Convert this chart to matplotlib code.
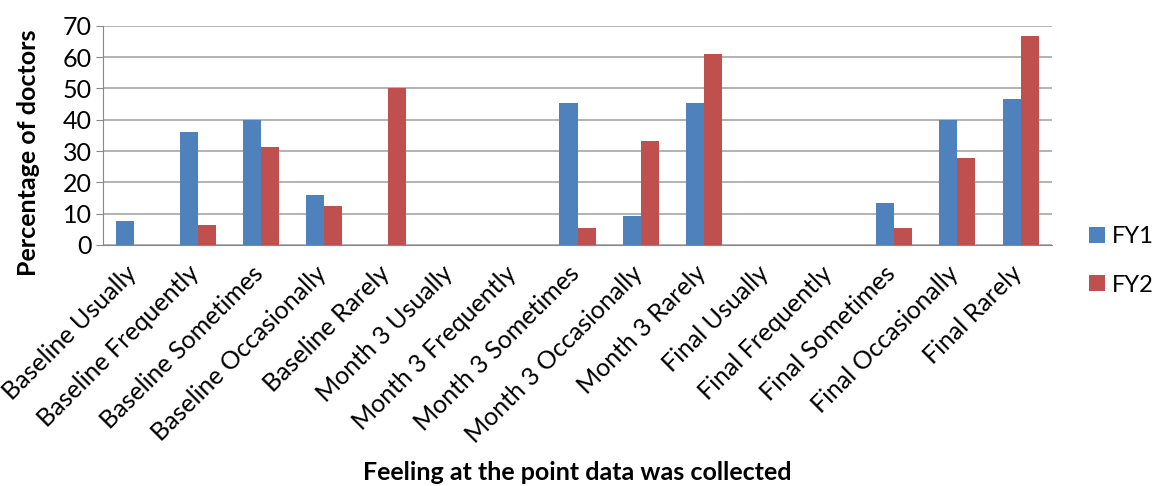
import matplotlib.pyplot as plt
import matplotlib.transforms as mtransforms
import numpy as np

# --- dane ---
categories = ["Baseline Usually", "Baseline Frequently", "Baseline Sometimes",
              "Baseline Occasionally", "Baseline Rarely", "Month 3 Usually",
              "Month 3 Frequently", "Month 3 Sometimes", "Month 3 Occasionally",
              "Month 3 Rarely", "Final Usually", "Final Frequently",
              "Final Sometimes", "Final Occasionally", "Final Rarely"]
fy1 = [7.7, 36, 40, 16, 0, 0, 0, 45.4, 9.1, 45.4, 0, 0, 13.3, 40, 46.7]
fy2 = [0, 6.3, 31.2, 12.3, 50, 0, 0, 5.3, 33.3, 61.1, 0, 0, 5.3, 27.8, 66.7]
yticks = [0, 10, 20, 30, 40, 50, 60, 70]

plt.rcParams['font.family'] = ['Lato', 'DejaVu Sans']
FS = 18

fig = plt.figure(figsize=(11.55, 4.86), dpi=100)
ax = fig.add_axes([0.089, 0.496, 0.822, 0.451])

x = np.arange(len(categories))
w = 0.285
ax.bar(x - w / 2, fy1, width=w, color='#4F81BD', label='FY1', zorder=3)
ax.bar(x + w / 2, fy2, width=w, color='#C0504D', label='FY2', zorder=3)

ax.set_xlim(-0.5, len(categories) - 0.5)
ax.set_ylim(0, 70)
ax.set_yticks(yticks)
ax.tick_params(axis='y', labelsize=FS, length=5, color='#888888', pad=3)
ax.tick_params(axis='x', length=0, pad=4)
ax.set_xticks(x)
labels = ax.set_xticklabels(categories, rotation=45, ha='right',
                            rotation_mode='anchor', fontsize=FS)
# przesuniecie etykiet (lewo/dol) jak w Excelu
shift = mtransforms.ScaledTranslation(-0.10, -0.11, fig.dpi_scale_trans)
for lab in labels:
    lab.set_transform(lab.get_transform() + shift)

ax.grid(axis='y', color='#A6A6A6', linewidth=1.2, zorder=0)
for s in ['top', 'right']:
    ax.spines[s].set_visible(False)
ax.spines['left'].set_color('#888888')
ax.spines['bottom'].set_color('#888888')

ax.set_ylabel('Percentage of doctors', fontsize=FS, fontweight='bold')
ax.yaxis.set_label_coords(-0.066, 0.42)
fig.text(0.5, 0.027, 'Feeling at the point data was collected', fontsize=FS,
         fontweight='bold', ha='center', va='center')

fig.legend(loc='center left', bbox_to_anchor=(0.943, 0.463), frameon=False,
           fontsize=17, handlelength=0.65, handleheight=0.65, labelspacing=1.15,
           handletextpad=0.3, borderpad=0, borderaxespad=0)

fig.savefig('out.png', dpi=100)
